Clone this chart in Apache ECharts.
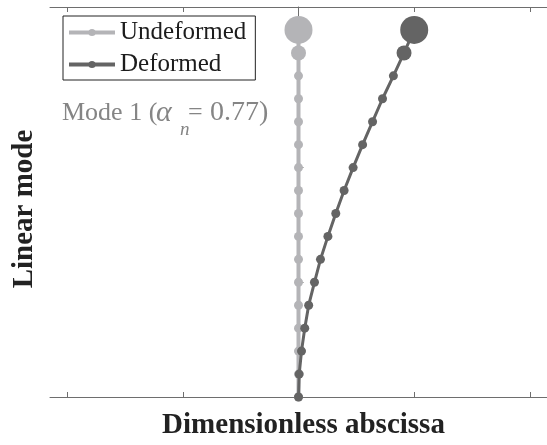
<!DOCTYPE html>
<html>
<head>
<meta charset="utf-8">
<script src="https://cdn.jsdelivr.net/npm/echarts@6/dist/echarts.min.js"></script>
<style>
  html, body { margin: 0; padding: 0; background: #fff; }
  #chart { width: 547px; height: 445px; }
</style>
</head>
<body>
<div id="chart"></div>
<script>
// node positions along the beam (bottom = 0, tip = 16)
const nodes = [0, 1, 2, 3, 4, 5, 6, 7, 8, 9, 10, 11, 12, 13, 14, 15, 16]
// dimensionless abscissa of each node
const undeformedX = [0, 0, 0, 0, 0, 0, 0, 0, 0, 0, 0, 0, 0, 0, 0, 0, 0]
const deformedX = [0, 0.003, 0.013, 0.027, 0.044, 0.069, 0.095, 0.127, 0.161,
  0.197, 0.236, 0.277, 0.32, 0.363, 0.41, 0.456, 0.5]
const xTicks = [-1, -0.5, 0, 0.5, 1]
const yTicks = [0, 5, 10, 15]

const serif = '"Liberation Serif", "Times New Roman", serif'
const axisColor = '#6e6e6e'
const lightGrey = '#b4b4b7'
const darkGrey = '#646464'
const noteGrey = '#858585'

const pairs = (xs) => xs.map((x, i) => [x, nodes[i]])
// tip gets a big marker, the node below a medium one
const markerSize = (v, p) => (p.dataIndex === 16 ? 28 : p.dataIndex === 15 ? 15 : 9)

const chart = echarts.init(document.getElementById('chart'))

const xCommon = {
  type: 'value',
  min: -1.0737,
  max: 1.0737,
  axisLine: { show: true, lineStyle: { color: axisColor, width: 1 } },
  axisTick: { show: true, inside: true, length: 5, customValues: xTicks, lineStyle: { color: axisColor } },
  axisLabel: { show: false },
  splitLine: { show: false },
}

const note = (text, x, y, font) => ({
  type: 'text', x: x, y: y,
  style: { text: text, font: font, fill: noteGrey, align: 'left', verticalAlign: 'middle' },
})

chart.setOption({
  animation: false,
  grid: { left: 50, top: 7, width: 504, height: 394 },
  legend: {
    left: 63,
    top: 16,
    orient: 'vertical',
    itemWidth: 46,
    itemHeight: 9,
    itemGap: 7,
    padding: [4, 9, 3, 4],
    borderColor: '#222',
    borderWidth: 1,
    lineStyle: { width: 4 },
    textStyle: { fontFamily: serif, fontSize: 25, color: '#1c1c1c' },
    data: ['Undeformed', 'Deformed'],
  },
  xAxis: [
    Object.assign({}, xCommon, {
      position: 'bottom',
      name: 'Dimensionless abscissa',
      nameLocation: 'middle',
      nameGap: 14,
      nameTextStyle: {
        fontFamily: serif, fontSize: 29, fontWeight: 'bold', color: '#222',
        verticalAlign: 'top', padding: [0, 0, 0, 10],
      },
    }),
    Object.assign({}, xCommon, { position: 'top' }),
  ],
  yAxis: {
    type: 'value',
    min: 0,
    max: 17,
    axisLine: { show: true, lineStyle: { color: axisColor, width: 1 } },
    axisTick: { show: true, inside: true, length: 5, customValues: yTicks, lineStyle: { color: axisColor } },
    axisLabel: { show: false },
    splitLine: { show: false },
  },
  graphic: [
    {
      type: 'text', x: 25, y: 209, rotation: Math.PI / 2,
      style: { text: 'Linear mode', font: 'bold 29px ' + serif, fill: '#222', align: 'center', verticalAlign: 'middle' },
    },
    note('Mode 1 (', 62, 113, '26px ' + serif),
    note('α', 156, 113, 'italic 30px ' + serif),
    note('n', 180, 130, 'italic 19px ' + serif),
    note('=', 188, 113, '26px ' + serif),
    note('0.77)', 210, 113, '28px ' + serif),
  ],
  series: [
    {
      name: 'Undeformed',
      type: 'line',
      data: pairs(undeformedX),
      symbol: 'circle',
      symbolSize: markerSize,
      lineStyle: { color: lightGrey, width: 4 },
      itemStyle: { color: lightGrey },
      z: 2,
    },
    {
      name: 'Deformed',
      type: 'line',
      data: pairs(deformedX),
      symbol: 'circle',
      symbolSize: markerSize,
      lineStyle: { color: darkGrey, width: 3 },
      itemStyle: { color: darkGrey },
      z: 3,
    },
  ],
})
</script>
</body>
</html>
